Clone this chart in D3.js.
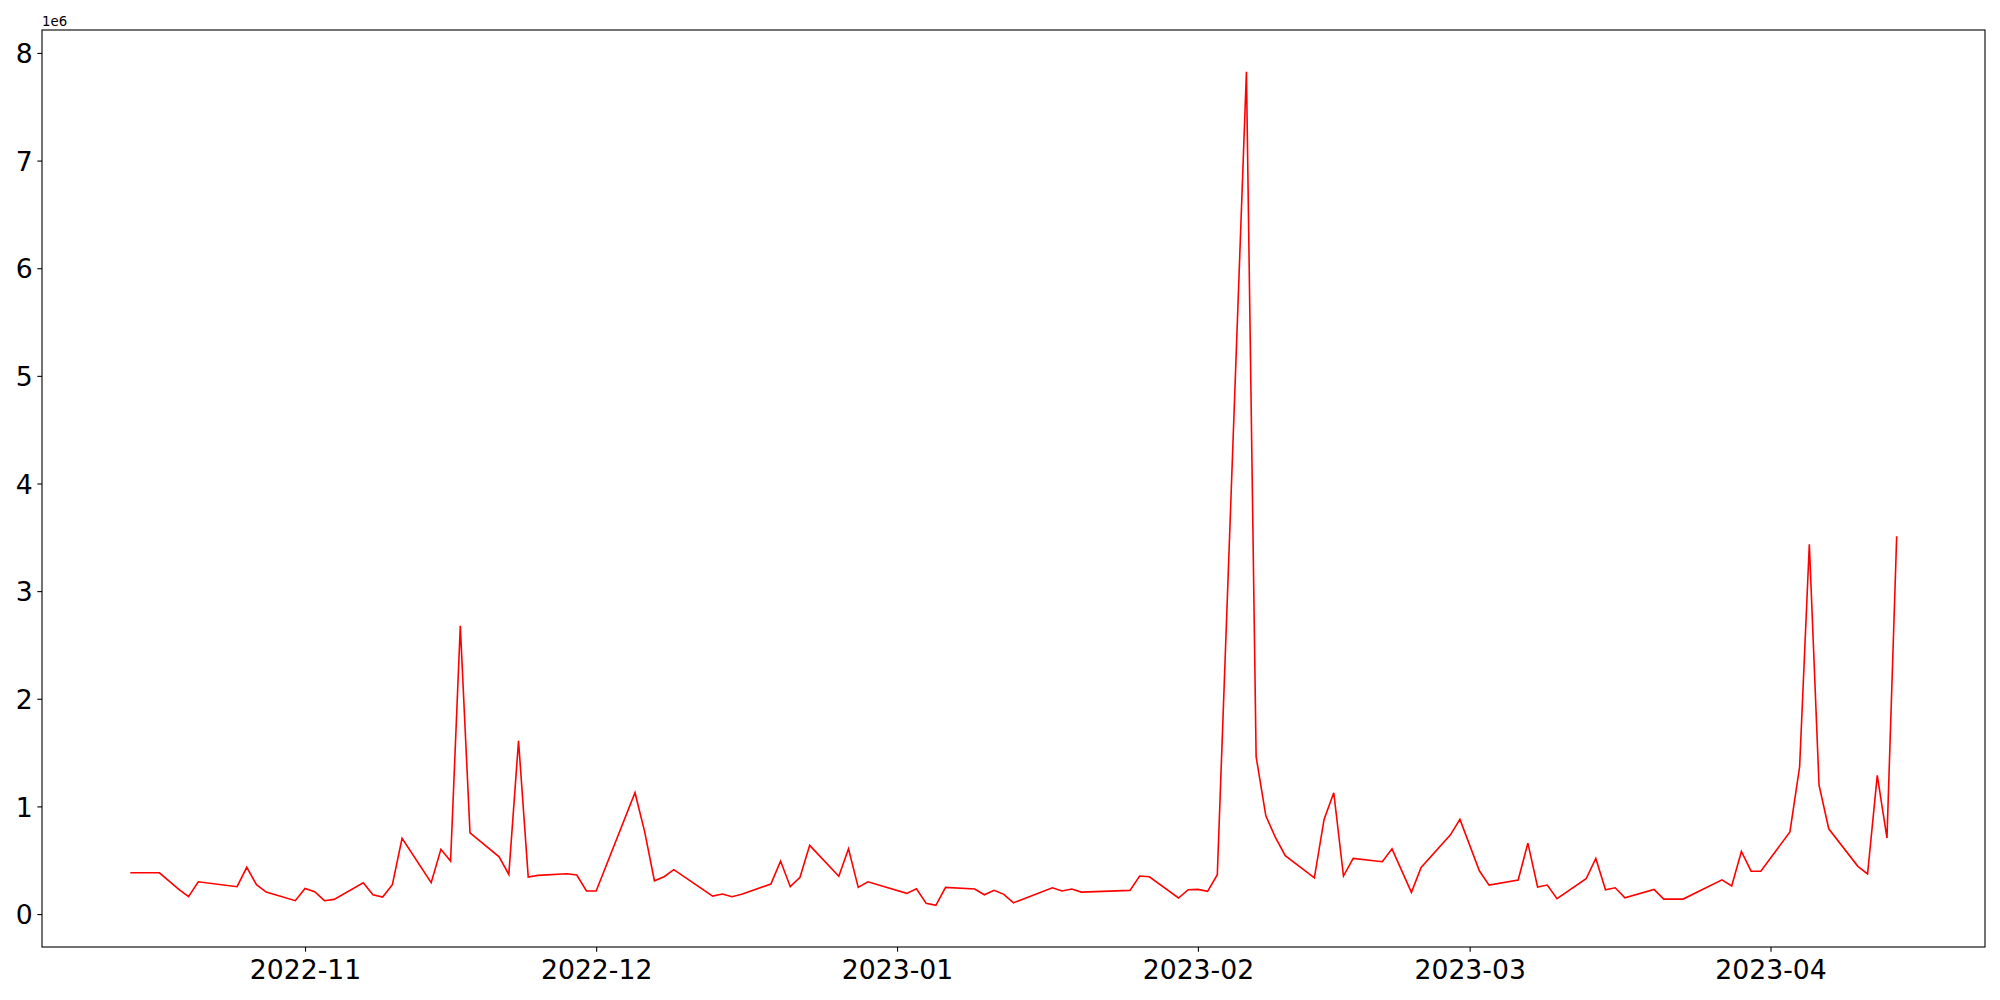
<!DOCTYPE html>
<html><head><meta charset="utf-8">
<script src="https://cdn.jsdelivr.net/npm/d3@7"></script>
<style>body{margin:0;background:#fff}svg{display:block}</style>
</head><body>
<svg id="c" width="2000" height="1000"></svg>
<script>
const dates = [
"2022-10-14","2022-10-17","2022-10-19","2022-10-20","2022-10-21","2022-10-25","2022-10-26","2022-10-27","2022-10-28","2022-10-31",
"2022-11-01","2022-11-02","2022-11-03","2022-11-04","2022-11-07","2022-11-08","2022-11-09","2022-11-10","2022-11-11","2022-11-14",
"2022-11-15","2022-11-16","2022-11-17","2022-11-18","2022-11-21","2022-11-22","2022-11-23","2022-11-24","2022-11-25","2022-11-28",
"2022-11-29","2022-11-30","2022-12-01","2022-12-05","2022-12-06","2022-12-07","2022-12-08","2022-12-09","2022-12-13","2022-12-14",
"2022-12-15","2022-12-16","2022-12-19","2022-12-20","2022-12-21","2022-12-22","2022-12-23","2022-12-26","2022-12-27","2022-12-28",
"2022-12-29","2023-01-02","2023-01-03","2023-01-04","2023-01-05","2023-01-06","2023-01-09","2023-01-10","2023-01-11","2023-01-12",
"2023-01-13","2023-01-17","2023-01-18","2023-01-19","2023-01-20","2023-01-25","2023-01-26","2023-01-27","2023-01-30","2023-01-31",
"2023-02-01","2023-02-02","2023-02-03","2023-02-06","2023-02-07","2023-02-08","2023-02-09","2023-02-10","2023-02-13","2023-02-14",
"2023-02-15","2023-02-16","2023-02-17","2023-02-20","2023-02-21","2023-02-23","2023-02-24","2023-02-27","2023-02-28","2023-03-02",
"2023-03-03","2023-03-06","2023-03-07","2023-03-08","2023-03-09","2023-03-10","2023-03-13","2023-03-14","2023-03-15","2023-03-16",
"2023-03-17","2023-03-20","2023-03-21","2023-03-23","2023-03-27","2023-03-28","2023-03-29","2023-03-30","2023-03-31","2023-04-03",
"2023-04-04","2023-04-05","2023-04-06","2023-04-07","2023-04-10","2023-04-11","2023-04-12","2023-04-13","2023-04-14"
];
const values = [
383000,383000,229000,161000,300000,254000,434000,272000,204000,124000,
238000,207000,124000,136000,291000,179000,158000,272000,703000,291000,
601000,492000,2677000,755000,532000,368000,1609000,344000,359000,374000,
362000,214000,214000,1127000,764000,309000,347000,412000,167000,186000,
161000,183000,279000,492000,254000,341000,638000,350000,606000,248000,
300000,192000,235000,99000,81000,248000,232000,179000,220000,183000,
105000,244000,214000,232000,204000,220000,353000,346000,149000,226000,
229000,211000,365000,7826000,1461000,913000,709000,542000,337000,879000,
1127000,353000,517000,486000,606000,201000,433000,733000,879000,402000,
269000,316000,659000,251000,269000,142000,328000,517000,226000,244000,
151000,229000,139000,139000,318000,261000,581000,398000,398000,763000,
1368000,3436000,1198000,792000,443000,373000,1288000,706000,3510000
];
const yTickValues = [0,1e6,2e6,3e6,4e6,5e6,6e6,7e6,8e6];
const yTickLabels = ["0","1","2","3","4","5","6","7","8"];
const offsetLabel = "1e6";

const L = 42, R = 1985, T = 30, B = 947;
const svg = d3.select("#c");
const parse = d3.utcParse("%Y-%m-%d");
const data = dates.map((d,i)=>({t:parse(d), v:values[i]}));

const tExt = d3.extent(data, d=>d.t);
const tPad = (tExt[1]-tExt[0])*0.05;
const x = d3.scaleUtc().domain([new Date(+tExt[0]-tPad), new Date(+tExt[1]+tPad)]).range([L,R]);
const vExt = d3.extent(values);
const vPad = (vExt[1]-vExt[0])*0.05;
const y = d3.scaleLinear().domain([vExt[0]-vPad, vExt[1]+vPad]).range([B,T]);

const font = "DejaVu Sans, sans-serif";
const tick = 4.67, pad = 4.67;

// line
svg.append("path").datum(data)
  .attr("fill","none").attr("stroke","#ff0000").attr("stroke-width",1.6)
  .attr("stroke-linejoin","miter")
  .attr("d", d3.line().x(d=>x(d.t)).y(d=>y(d.v)));

// x axis
const xa = svg.append("g").attr("transform",`translate(0,${B})`)
  .call(d3.axisBottom(x).ticks(d3.utcMonth.every(1)).tickFormat(d3.utcFormat("%Y-%m")).tickSize(tick).tickPadding(pad));
xa.select(".domain").remove();
xa.selectAll("line").attr("stroke","#000").attr("stroke-width",1.1);
xa.selectAll("text").attr("font-family",font).attr("font-size","26.67px").attr("fill","#000")
  .attr("y", 32).attr("dy", null);

// y axis
const ya = svg.append("g").attr("transform",`translate(${L},0)`)
  .call(d3.axisLeft(y).tickValues(yTickValues).tickFormat((d,i)=>yTickLabels[i]).tickSize(tick).tickPadding(pad));
ya.select(".domain").remove();
ya.selectAll("line").attr("stroke","#000").attr("stroke-width",1.1);
ya.selectAll("text").attr("font-family",font).attr("font-size","26.67px").attr("fill","#000")
  .attr("dy","0.36em");

// frame
svg.append("rect").attr("x",L).attr("y",T).attr("width",R-L).attr("height",B-T)
  .attr("fill","none").attr("stroke","#000").attr("stroke-width",1.1);

// offset text
svg.append("text").attr("x",L).attr("y",T-4.5).text(offsetLabel)
  .attr("font-family",font).attr("font-size","13.33px").attr("fill","#000");
</script>
</body></html>
